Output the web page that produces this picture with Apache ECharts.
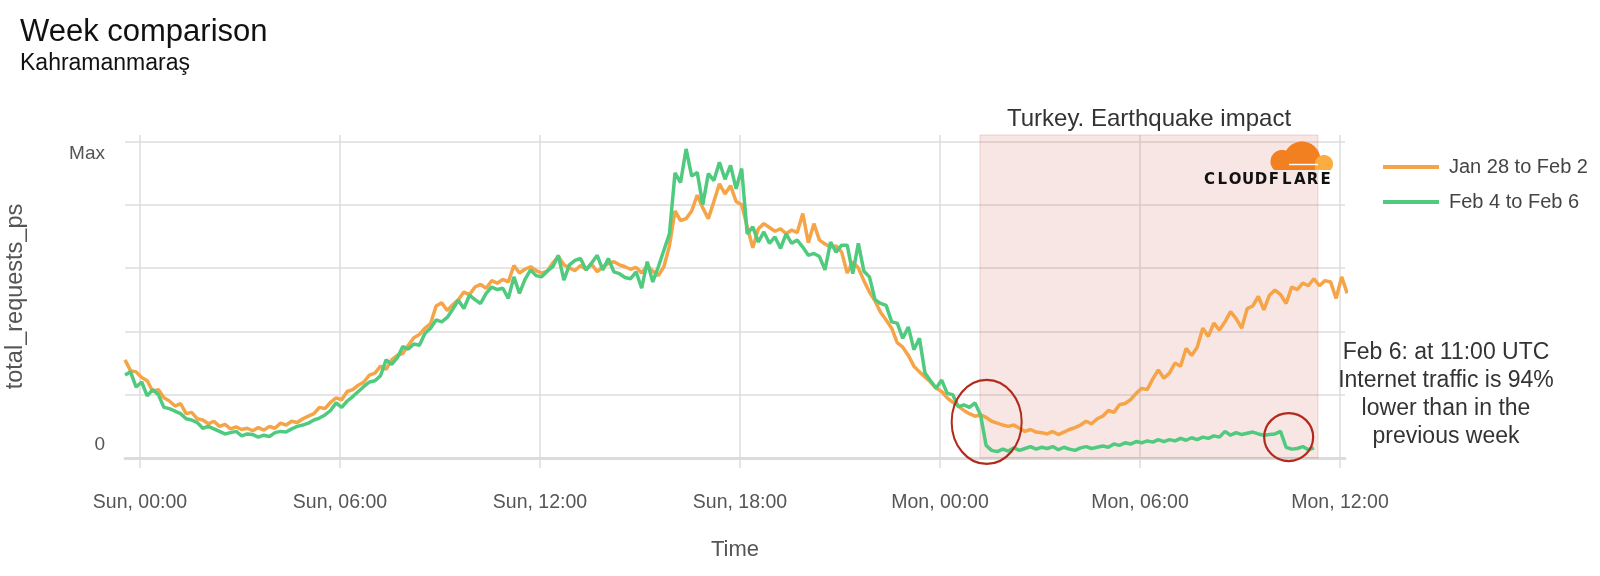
<!DOCTYPE html>
<html><head><meta charset="utf-8">
<script src="https://cdn.jsdelivr.net/npm/echarts@6/dist/echarts.min.js"></script>
<style>html,body{margin:0;padding:0;background:#fff}#c{width:1600px;height:576px}</style>
</head><body><div id="c"></div>
<script>
// ---- data ----
const START_HOUR = -0.45;          // first sample, hours from Sun 00:00
const STEP_HOUR = 1 / 6;           // 10-minute samples
const X_TICKS = [0, 6, 12, 18, 24, 30, 36];
const X_TICK_LABELS = ['Sun, 00:00', 'Sun, 06:00', 'Sun, 12:00', 'Sun, 18:00', 'Mon, 00:00', 'Mon, 06:00', 'Mon, 12:00'];
const Y_GRID_VALUES = [0, 1, 2, 3, 4, 5];
const Y_LABEL_VALUES = [0.205, 4.81];
const Y_LABELS = ['0', 'Max'];
const SERIES_NAMES = ['Jan 28 to Feb 2', 'Feb 4 to Feb 6'];
const IMPACT_RANGE = [25.2, 35.34];
const IMPACT_LABEL = 'Turkey. Earthquake impact';
const NOTE_LINES = ['Feb 6: at 11:00 UTC', 'Internet traffic is 94%', 'lower than in the', 'previous week'];

const ORANGE = [
1.55,1.38,1.36,1.27,1.22,1.05,1.08,0.95,0.90,0.82,0.86,0.70,
0.72,0.62,0.60,0.54,0.58,0.50,0.53,0.46,0.49,0.45,0.47,0.43,
0.48,0.44,0.50,0.47,0.55,0.52,0.58,0.56,0.62,0.66,0.70,0.80,
0.78,0.88,0.95,0.92,1.05,1.08,1.15,1.20,1.31,1.34,1.45,1.40,
1.55,1.62,1.65,1.78,1.90,1.95,2.05,2.12,2.40,2.45,2.33,2.42,
2.50,2.62,2.58,2.70,2.74,2.68,2.80,2.76,2.82,2.78,3.04,2.92,
2.98,3.02,2.96,2.92,2.95,3.08,3.18,3.05,3.00,2.96,3.04,2.98,
3.06,2.94,3.02,3.07,3.10,3.05,3.02,2.98,3.01,2.92,3.04,2.95,
2.88,3.02,3.35,3.90,3.75,3.78,3.90,4.15,3.95,3.78,4.05,4.33,
4.17,4.30,4.05,4.00,3.65,3.32,3.62,3.70,3.64,3.58,3.62,3.54,
3.60,3.56,3.86,3.40,3.70,3.44,3.38,3.33,3.35,3.25,2.92,3.10,
3.00,2.80,2.62,2.48,2.30,2.18,2.05,1.82,1.75,1.62,1.45,1.36,
1.28,1.20,1.10,1.05,0.95,0.88,0.82,0.75,0.70,0.66,0.68,0.64,
0.58,0.55,0.52,0.50,0.52,0.47,0.42,0.45,0.41,0.40,0.38,0.42,
0.37,0.41,0.45,0.48,0.52,0.58,0.54,0.62,0.66,0.75,0.72,0.84,
0.86,0.92,1.02,1.10,1.08,1.25,1.39,1.26,1.34,1.50,1.45,1.73,
1.62,1.75,2.05,1.92,2.13,2.02,2.15,2.31,2.20,2.05,2.36,2.40,
2.55,2.34,2.57,2.65,2.58,2.44,2.70,2.66,2.76,2.72,2.83,2.72,
2.80,2.78,2.52,2.86,2.60
];

const GREEN = [
1.31,1.36,1.12,1.20,0.98,1.08,1.00,0.80,0.78,0.74,0.70,0.62,
0.60,0.56,0.47,0.50,0.46,0.42,0.38,0.40,0.42,0.35,0.38,0.37,
0.33,0.36,0.34,0.40,0.42,0.41,0.46,0.50,0.52,0.55,0.60,0.63,
0.68,0.75,0.87,0.80,0.90,0.97,1.05,1.13,1.20,1.22,1.30,1.55,
1.48,1.58,1.76,1.72,1.80,1.78,1.97,2.05,2.18,2.15,2.22,2.35,
2.49,2.36,2.57,2.50,2.44,2.60,2.70,2.66,2.68,2.52,2.86,2.60,
2.82,2.97,2.88,2.86,2.95,3.02,3.20,2.81,3.05,3.12,3.15,2.97,
3.08,3.20,2.97,3.15,2.94,2.91,2.85,2.83,2.94,2.68,3.10,2.78,
3.02,3.28,3.54,4.50,4.35,4.88,4.45,4.51,4.00,4.49,4.38,4.67,
4.40,4.62,4.25,4.57,3.54,3.65,3.41,3.57,3.39,3.49,3.31,3.54,
3.39,3.44,3.33,3.20,3.23,3.18,2.97,3.41,3.25,3.36,3.36,2.91,
3.39,2.95,2.86,2.50,2.44,2.41,2.15,2.13,1.89,2.07,1.71,1.89,
1.34,1.22,1.10,1.23,1.02,1.00,0.81,0.84,0.80,0.87,0.68,0.20,
0.12,0.10,0.14,0.11,0.16,0.12,0.15,0.18,0.14,0.17,0.15,0.18,
0.13,0.17,0.14,0.12,0.16,0.18,0.15,0.17,0.19,0.17,0.22,0.20,
0.24,0.22,0.26,0.24,0.27,0.25,0.29,0.26,0.29,0.27,0.31,0.28,
0.32,0.29,0.33,0.31,0.35,0.33,0.42,0.36,0.40,0.37,0.39,0.41,
0.38,0.36,0.37,0.38,0.42,0.17,0.14,0.15,0.18,0.13,0.16
];

// ---- chart ----
const FONT = 'Liberation Sans, Arial, Helvetica, sans-serif';
function toPairs(vals) { return vals.map((v, i) => [START_HOUR + i * STEP_HOUR, v]); }
function nearestIdx(arr, v) {
  let best = 0;
  arr.forEach((a, i) => { if (Math.abs(a - v) < Math.abs(arr[best] - v)) best = i; });
  return best;
}
// Circle segment above a horizontal cut (for the logo)
function capPoly(cx, cy, r, yCut) {
  const pts = [];
  const d = Math.max(-r, Math.min(r, yCut - cy));
  const a0 = Math.asin(d / r);
  const a1 = Math.PI - a0;
  const n = 40;
  for (let k = 0; k <= n; k++) {
    const a = a1 + (2 * Math.PI - (a1 - a0)) * k / n; // sweep over the top
    pts.push([cx + r * Math.cos(a), cy + r * Math.sin(a)]);
  }
  return pts;
}

const logo = [];
logo.push({ type: 'polygon', z: 20, shape: { points: capPoly(1302, 160, 18.5, 170) }, style: { fill: '#F38020' } });
logo.push({ type: 'polygon', z: 20, shape: { points: capPoly(1282, 161.5, 11.5, 170) }, style: { fill: '#F38020' } });
logo.push({ type: 'rect', z: 20, shape: { x: 1279, y: 162, width: 30, height: 8 }, style: { fill: '#F38020' } });
logo.push({ type: 'polygon', z: 21, shape: { points: capPoly(1324, 164, 9, 170) }, style: { fill: '#FBAD41' } });
logo.push({ type: 'rect', z: 21, shape: { x: 1315, y: 165, width: 10, height: 5 }, style: { fill: '#FBAD41' } });
logo.push({ type: 'line', z: 22, shape: { x1: 1289, y1: 164.5, x2: 1318, y2: 164.5 }, style: { stroke: '#fff', lineWidth: 1.4 } });
'CLOUDFLARE'.split('').forEach((ch, k) => {
  logo.push({ type: 'text', z: 20, x: 1203 + 6.45 + k * 12.9, y: 180,
    style: { text: ch, align: 'center', verticalAlign: 'middle', font: 'bold 15px "DejaVu Sans", sans-serif', fill: '#111' } });
});

const chart = echarts.init(document.getElementById('c'), null, { renderer: 'canvas' });
chart.setOption({
  backgroundColor: '#fff',
  animation: false,
  textStyle: { fontFamily: FONT },
  title: {
    text: 'Week comparison', subtext: 'Kahramanmaraş',
    left: 20, top: 17, itemGap: 4, padding: 0,
    textStyle: { fontFamily: FONT, fontSize: 31, fontWeight: 'normal', color: '#111' },
    subtextStyle: { fontFamily: FONT, fontSize: 23, color: '#111' }
  },
  legend: {
    data: SERIES_NAMES, orient: 'vertical', left: 1378, top: 152, itemGap: 15,
    icon: 'rect', itemWidth: 56, itemHeight: 4,
    textStyle: { fontFamily: FONT, fontSize: 20, color: '#444', padding: [0, 0, 0, 5] }
  },
  grid: { left: 125, right: 255, top: 135, bottom: 118, containLabel: false, outerBoundsMode: 'none' },
  xAxis: {
    type: 'value', min: -0.45, max: 36.15,
    axisLine: { show: true, lineStyle: { color: '#dcdcdc', width: 3 } },
    axisTick: { show: true, customValues: X_TICKS, length: 10, lineStyle: { color: '#dcdcdc', width: 1.5 } },
    axisLabel: { customValues: X_TICKS, margin: 35, fontSize: 19.5, color: '#555', fontFamily: FONT,
      formatter: v => X_TICK_LABELS[nearestIdx(X_TICKS, v)] },
    splitLine: { show: true, lineStyle: { color: '#dcdcdc', width: 1.5 } },
    name: 'Time', nameLocation: 'middle', nameGap: 81,
    nameTextStyle: { fontSize: 22, color: '#555', fontFamily: FONT }
  },
  yAxis: {
    type: 'value', min: 0, max: 5.1,
    axisLine: { show: false },
    axisTick: { show: false, customValues: Y_GRID_VALUES },
    axisLabel: { customValues: Y_LABEL_VALUES, margin: 20, fontSize: 19, color: '#555', fontFamily: FONT,
      formatter: v => Y_LABELS[nearestIdx(Y_LABEL_VALUES, v)] },
    splitLine: { show: true, lineStyle: { color: '#dcdcdc', width: 1.5 } },
    name: 'total_requests_ps', nameLocation: 'middle', nameGap: 97,
    nameTextStyle: { fontSize: 23.5, color: '#555', fontFamily: FONT }
  },
  series: [
    {
      type: 'line', data: [], z: 1, silent: true, clip: false,
      markArea: {
        silent: true,
        itemStyle: { color: 'rgba(205,105,95,0.17)', borderColor: 'rgba(190,110,100,0.25)', borderWidth: 1 },
        label: { show: true, position: 'top', distance: 3, fontSize: 24, color: '#333', fontFamily: FONT },
        data: [[
          { name: IMPACT_LABEL, xAxis: IMPACT_RANGE[0], yAxis: -0.03 },
          { xAxis: IMPACT_RANGE[1], yAxis: 5.19 }
        ]]
      }
    },
    {
      name: SERIES_NAMES[0], type: 'line', data: toPairs(ORANGE), z: 3,
      showSymbol: false, symbol: 'none',
      lineStyle: { color: '#F5A447', width: 3.5 }, itemStyle: { color: '#F5A447' }
    },
    {
      name: SERIES_NAMES[1], type: 'line', data: toPairs(GREEN), z: 4,
      showSymbol: false, symbol: 'none',
      lineStyle: { color: '#50CA7F', width: 3.5 }, itemStyle: { color: '#50CA7F' }
    },
    {
      type: 'line', data: [], z: 6, silent: true, clip: false,
      markPoint: {
        silent: true, symbol: 'circle',
        label: { show: false },
        itemStyle: { color: 'rgba(0,0,0,0)', borderColor: '#B22A1C', borderWidth: 2.2 },
        data: [
          { coord: [25.4, 0.57], symbolSize: [70, 84] },
          { coord: [34.46, 0.33], symbolSize: [49, 48] }
        ]
      }
    }
  ],
  graphic: [
    { type: 'text', z: 20, x: 1446, y: 339,
      style: { text: NOTE_LINES.join('\n'), align: 'center', verticalAlign: 'top',
        fontSize: 23, lineHeight: 28, fill: '#333', fontFamily: FONT } }
  ].concat(logo)
});
</script>
</body></html>
